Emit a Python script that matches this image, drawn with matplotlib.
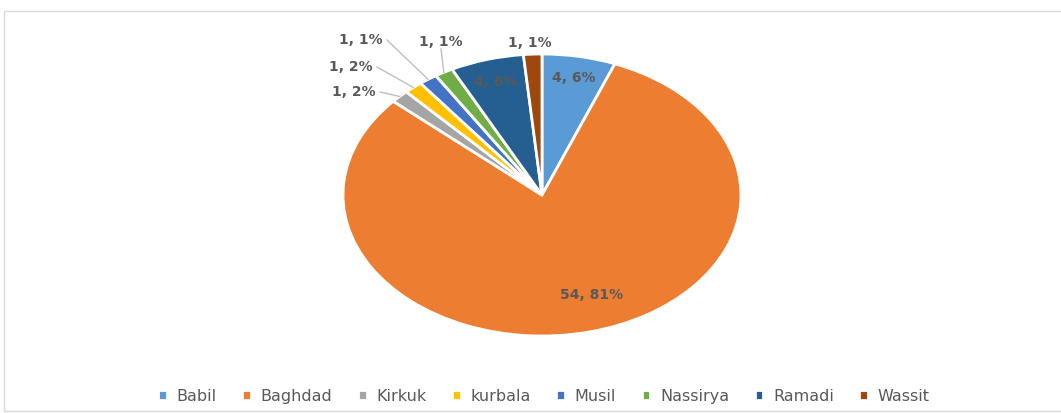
"""Pie chart of cases by governorate, value and share per slice."""
import numpy as np
import matplotlib.pyplot as plt
from matplotlib.patches import Rectangle

regions = ["Babil", "Baghdad", "Kirkuk", "kurbala", "Musil",
           "Nassirya", "Ramadi", "Wassit"]
counts = [4, 54, 1, 1, 1, 1, 4, 1]
shares = [6, 81, 2, 2, 1, 1, 6, 1]
colors = ["#5B9BD5", "#ED7D31", "#A5A5A5", "#FFC000", "#4472C4",
          "#70AD47", "#255E91", "#9E480E"]

W, H = 1061, 414
CX, CY = 542, 196          # pie centre, pixels from top-left
RX, RY = 199, 141          # stretched pie radii in pixels

fig = plt.figure(figsize=(W / 100, H / 100), dpi=100)
ax = fig.add_axes([0, 0, 1, 1])
ax.axis("off")

wedges, _ = ax.pie(counts, colors=colors, startangle=90, counterclock=False,
                   wedgeprops=dict(edgecolor="white", linewidth=2))
ax.set_aspect("auto")
ax.set_xlim(-CX / RX, (W - CX) / RX)
ax.set_ylim(-(H - CY) / RY, CY / RY)

txt = dict(color="#595959", fontsize=10, fontweight="bold")


def px(x, y):
    return (x - CX) / RX, (CY - y) / RY


# label placement: inside radius, or outside text pixel position + alignment
inside = {0: 0.85, 1: 0.72, 6: 0.84}
outside = {2: ((376, 92), "right"), 3: ((373, 67), "right"),
           4: ((383, 40), "right"), 5: ((441, 42), "center"),
           7: ((530, 43), "center")}

for i, w in enumerate(wedges):
    mid = np.deg2rad((w.theta1 + w.theta2) / 2)
    label = f"{counts[i]}, {shares[i]}%"
    if i in inside:
        r = inside[i]
        ax.text(r * np.cos(mid) + (0.08 if i == 1 else 0), r * np.sin(mid),
                label, ha="center", va="center", **txt)
        continue
    (tx, ty), ha = outside[i]
    if i != 7:
        edge = (np.cos(mid), np.sin(mid))
        start = px(tx + 4, ty + 1) if ha == "right" else px(tx, ty + 8)
        ax.plot([start[0], edge[0]], [start[1], edge[1]],
                color="#BFBFBF", lw=1)
    ax.text(*px(tx, ty), label, ha=ha, va="center", **txt)

leg = fig.legend(wedges, regions, ncol=8, loc="center",
                 bbox_to_anchor=(544 / W, 17 / H), frameon=False,
                 handlelength=0.55, handleheight=0.55, handletextpad=0.6,
                 columnspacing=1.6, fontsize=11.5)
for t in leg.get_texts():
    t.set_color("#595959")

fig.patches.append(Rectangle((4 / W, 2 / H), 1.1, (H - 14) / H,
                             transform=fig.transFigure, fill=False,
                             edgecolor="#D9D9D9", lw=1))

fig.savefig("out.png", dpi=100)
